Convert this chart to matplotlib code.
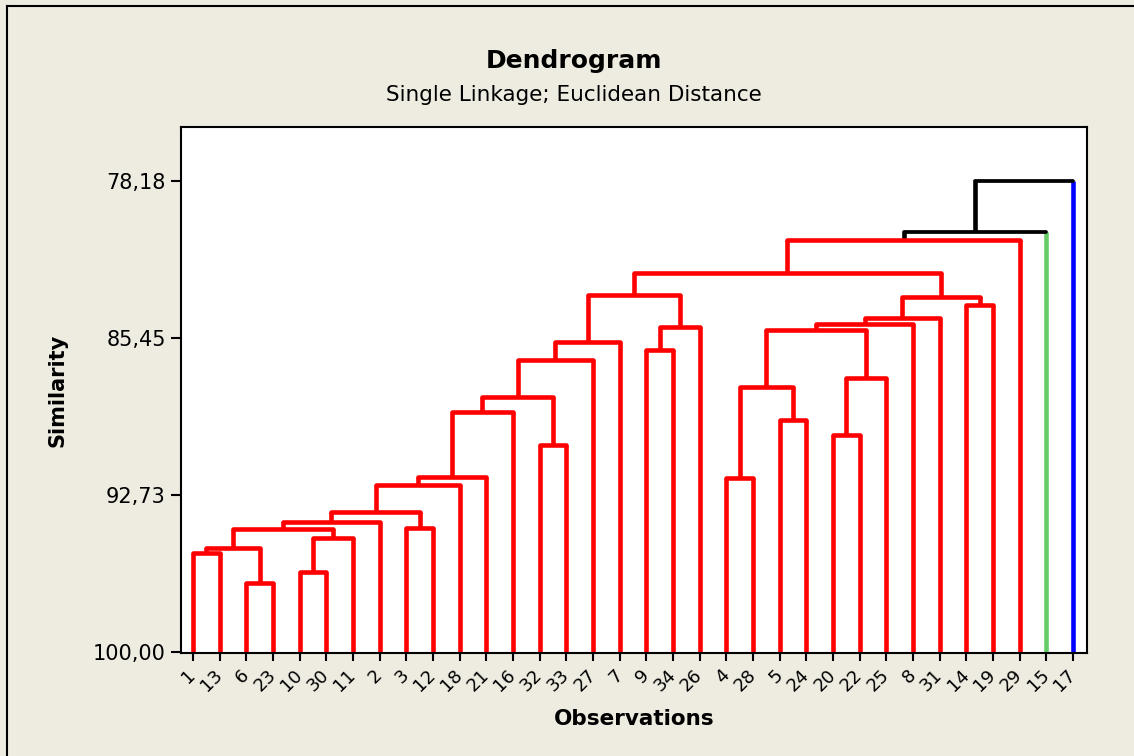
import matplotlib
matplotlib.use("Agg")
import matplotlib.pyplot as plt
from matplotlib.lines import Line2D

# leaf order along the x axis
leaves = [1, 13, 6, 23, 10, 30, 11, 2, 3, 12, 18, 21, 16, 32, 33, 27, 7,
          9, 34, 26, 4, 28, 5, 24, 20, 22, 25, 8, 31, 14, 19, 29, 15, 17]

# merges: (left, right, similarity); "mN" refers to the N-th merge
merges = [
    (1, 13, 95.41), (6, 23, 96.80), ("m0", "m1", 95.18),
    (10, 30, 96.29), ("m3", 11, 94.72), ("m2", "m4", 94.30),
    ("m5", 2, 93.98), (3, 12, 94.26), ("m6", "m7", 93.51),
    ("m8", 18, 92.26), ("m9", 21, 91.89), ("m10", 16, 88.88),
    (32, 33, 90.41), ("m11", "m12", 88.19), ("m13", 27, 86.47),
    ("m14", 7, 85.64), (9, 34, 86.01), ("m16", 26, 84.94),
    ("m15", "m17", 83.46), (4, 28, 91.94), (5, 24, 89.25),
    ("m19", "m20", 87.72), (20, 22, 89.95), ("m22", 25, 87.31),
    ("m21", "m23", 85.08), ("m24", 8, 84.80), ("m25", 31, 84.53),
    (14, 19, 83.92), ("m26", "m27", 83.55), ("m18", "m28", 82.44),
    ("m29", 29, 80.91), ("m30", 15, 80.54), ("m31", 17, 78.18),
]

yticks = [78.18, 85.45, 92.73, 100.00]
ytick_labels = ["78,18", "85,45", "92,73", "100,00"]

merge_colors = {31: "black", 32: "black"}
leaf_colors = {15: "#66CC66", 17: "#0000FF"}

fig = plt.figure(figsize=(11.34, 7.56), dpi=100, facecolor="#EEEBE1")
ax = fig.add_axes([0.1596, 0.1362, 0.7989, 0.6958])
ax.set_facecolor("white")

pos = {}
for i, lf in enumerate(leaves):
    pos[lf] = (i, 100.0)

for k, (a, b, s) in enumerate(merges):
    xa, ya = pos[a]
    xb, yb = pos[b]
    c = merge_colors.get(k, "red")
    ca = leaf_colors.get(a, c) if not isinstance(a, str) else c
    cb = leaf_colors.get(b, c) if not isinstance(b, str) else c
    lw = 2.7 if c == "black" else 3.3
    ax.plot([xa, xa], [ya, s], color=ca, lw=3.3, solid_capstyle="butt", zorder=2)
    ax.plot([xb, xb], [yb, s], color=cb, lw=3.3, solid_capstyle="butt", zorder=2)
    ax.plot([xa, xb], [s, s], color=c, lw=lw, solid_capstyle="round", zorder=3)
    pos["m%d" % k] = ((xa + xb) / 2, s)

ax.set_xlim(-0.45, 33.52)
ax.set_ylim(100.05, 75.68)

ax.set_yticks(yticks)
ax.set_yticklabels(ytick_labels, fontsize=15)
ax.set_xticks(range(len(leaves)))
ax.set_xticklabels([str(v) for v in leaves], fontsize=13, rotation=45,
                   ha="right", va="center", rotation_mode="anchor")
ax.tick_params(axis="y", length=7, width=1.5, pad=4)
ax.tick_params(axis="x", length=6, width=1.5, pad=8)
for sp in ax.spines.values():
    sp.set_linewidth(1.5)

ax.set_xlabel("Observations", fontsize=15.5, fontweight="bold", labelpad=10)
ax.set_ylabel("Similarity", fontsize=15, fontweight="bold", labelpad=18)

fig.text(574 / 1134, 1 - 61 / 756, "Dendrogram", fontsize=18, fontweight="bold",
         ha="center", va="center")
fig.text(574 / 1134, 1 - 95 / 756, "Single Linkage; Euclidean Distance",
         fontsize=15.5, ha="center", va="center")

# outer frame (only top and left edges are visible)
fig.add_artist(Line2D([7 / 1134, 1], [1 - 6 / 756, 1 - 6 / 756], color="black", lw=1.5))
fig.add_artist(Line2D([7 / 1134, 7 / 1134], [0, 1 - 6 / 756], color="black", lw=1.5))

fig.savefig("out.png", dpi=100, facecolor=fig.get_facecolor())
